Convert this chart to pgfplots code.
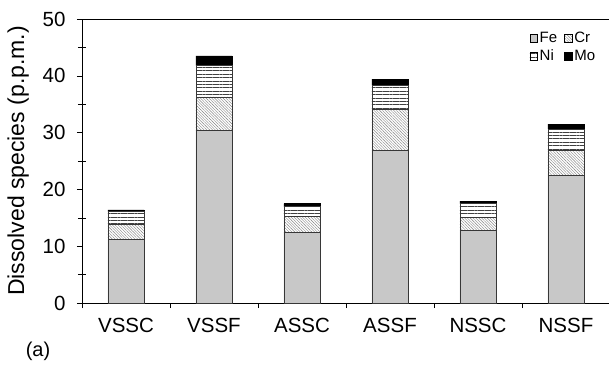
\documentclass[border=0pt]{standalone}
\usepackage{pgfplots}
\pgfplotsset{compat=1.18}
\usepackage{pgfplotstable}
\usetikzlibrary{patterns.meta}
\usepackage{fontspec}
\setmainfont{Liberation Sans}

\definecolor{fegray}{RGB}{200,200,200}
\definecolor{edge}{RGB}{55,55,55}

% Dissolved species (p.p.m.) per specimen, stacked Fe / Cr / Ni / Mo
\pgfplotstableread{
x  Fe    Cr   Ni   Mo
0  11.2  2.7  2.2  0.3
1  30.4  5.9  5.5  1.7
2  12.4  2.8  1.9  0.4
3  26.8  7.3  4.2  1.1
4  12.85 2.25 2.45 0.4
5  22.5  4.4  3.7  0.9
}\dissolved

\pgfplotsset{
  segleg/.style={legend image code/.code={
    \draw[##1, draw=black, line width=0.5pt] (0pt,-3.8pt) rectangle (7.6pt,3.8pt);}},
}

\begin{document}
\begin{tikzpicture}
\useasboundingbox (-82pt,-67pt) rectangle (527pt,303pt);
\begin{axis}[
  name=ax,
  scale only axis, width=528pt, height=284pt,
  ybar stacked, bar width=0.41,
  xmin=-0.5, xmax=5.5, ymin=0, ymax=50,
  axis x line*=bottom, axis y line*=left,
  axis line style={-, line width=0.8pt, black},
  xtick={0,...,5},
  xticklabels={VSSC,VSSF,ASSC,ASSF,NSSC,NSSF},
  major x tick style={draw=none},
  minor xtick={-0.5,0.5,1.5,2.5,3.5,4.5},
  ytick={0,10,...,50},
  extra y ticks={5,15,25,35,45},
  extra y tick labels={},
  extra tick style={tick align=center, major tick length=8pt},
  tick align=outside,
  major tick length=5pt, minor tick length=5pt,
  tick style={black, line width=0.6pt},
  /pgf/number format/assume math mode=true,
  tick label style={font=\fontsize{20.5}{23}\selectfont},
  xticklabel style={yshift=-7pt},
  yticklabel style={xshift=-8pt},
  ylabel={Dissolved species (p.p.m.)},
  every axis y label/.style={at={(axis description cs:-0.121,0.5)}, anchor=center,
    rotate=90, font=\fontsize{23}{26}\selectfont},
  legend columns=2,
  legend style={draw=none, fill=none, at={(axis description cs:0.978,0.965)}, anchor=north east,
    font=\fontsize{15}{17}\selectfont, row sep=2pt, inner sep=1pt,
    /tikz/every even column/.append style={column sep=5pt}},
  legend cell align=left,
]
\addplot[segleg, fill=fegray, draw=edge, line width=0.6pt] table[x=x, y=Fe] {\dissolved};
\addplot[segleg, pattern={Lines[angle=-45, distance=2pt, line width=0.4pt]}, pattern color=black!50, draw=edge, line width=0.6pt] table[x=x, y=Cr] {\dissolved};
\addplot[segleg, pattern={Lines[angle=0, distance=3.4pt, line width=0.65pt]}, pattern color=black!75, draw=edge, line width=0.6pt] table[x=x, y=Ni] {\dissolved};
\addplot[segleg, fill=black, draw=black, line width=0.6pt] table[x=x, y=Mo] {\dissolved};
\legend{Fe, Cr, Ni, Mo}
\end{axis}
% top frame line (no right-hand border) and panel tag
\draw[line width=0.8pt, black] (ax.north west) -- (ax.north east);
\node[font=\fontsize{20}{22}\selectfont] at ([xshift=-44pt, yshift=-48pt]ax.south west) {(a)};
\end{tikzpicture}
\end{document}
